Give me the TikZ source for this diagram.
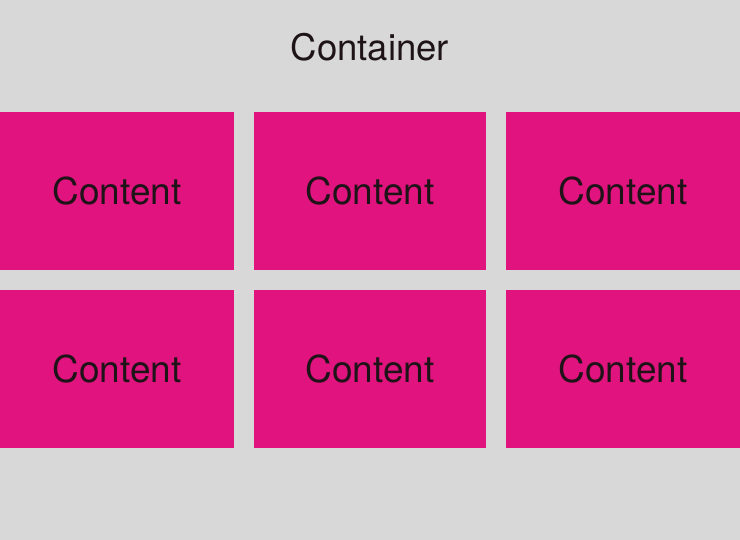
\documentclass[tikz,border=0pt]{standalone}
\usepackage{fontspec}
\setmainfont{TeX Gyre Heros}
\definecolor{bg}{HTML}{D8D8D8}
\definecolor{mag}{HTML}{E0137F}
\definecolor{ink}{HTML}{1E1418}
\begin{document}
\begin{tikzpicture}[x=1pt,y=-1pt,
  cell/.style={fill=mag,draw=none,minimum width=#1,minimum height=158pt,inner sep=0pt,text=ink,font=\fontsize{37}{40}\selectfont,anchor=north west},
  title/.style={text=ink,font=\fontsize{36.5}{40}\selectfont}]
\fill[bg] (0,0) rectangle (740,540);
\useasboundingbox (0,0) rectangle (740,540);
\node[title] (container) at (370,47) {Container};
\node[cell=234pt] (c11) at (0,112) {Content};
\node[cell=232pt] (c12) at (254,112) {Content};
\node[cell=234pt] (c13) at (506,112) {Content};
\node[cell=234pt] (c21) at (0,290) {Content};
\node[cell=232pt] (c22) at (254,290) {Content};
\node[cell=234pt] (c23) at (506,290) {Content};
\end{tikzpicture}
\end{document}
